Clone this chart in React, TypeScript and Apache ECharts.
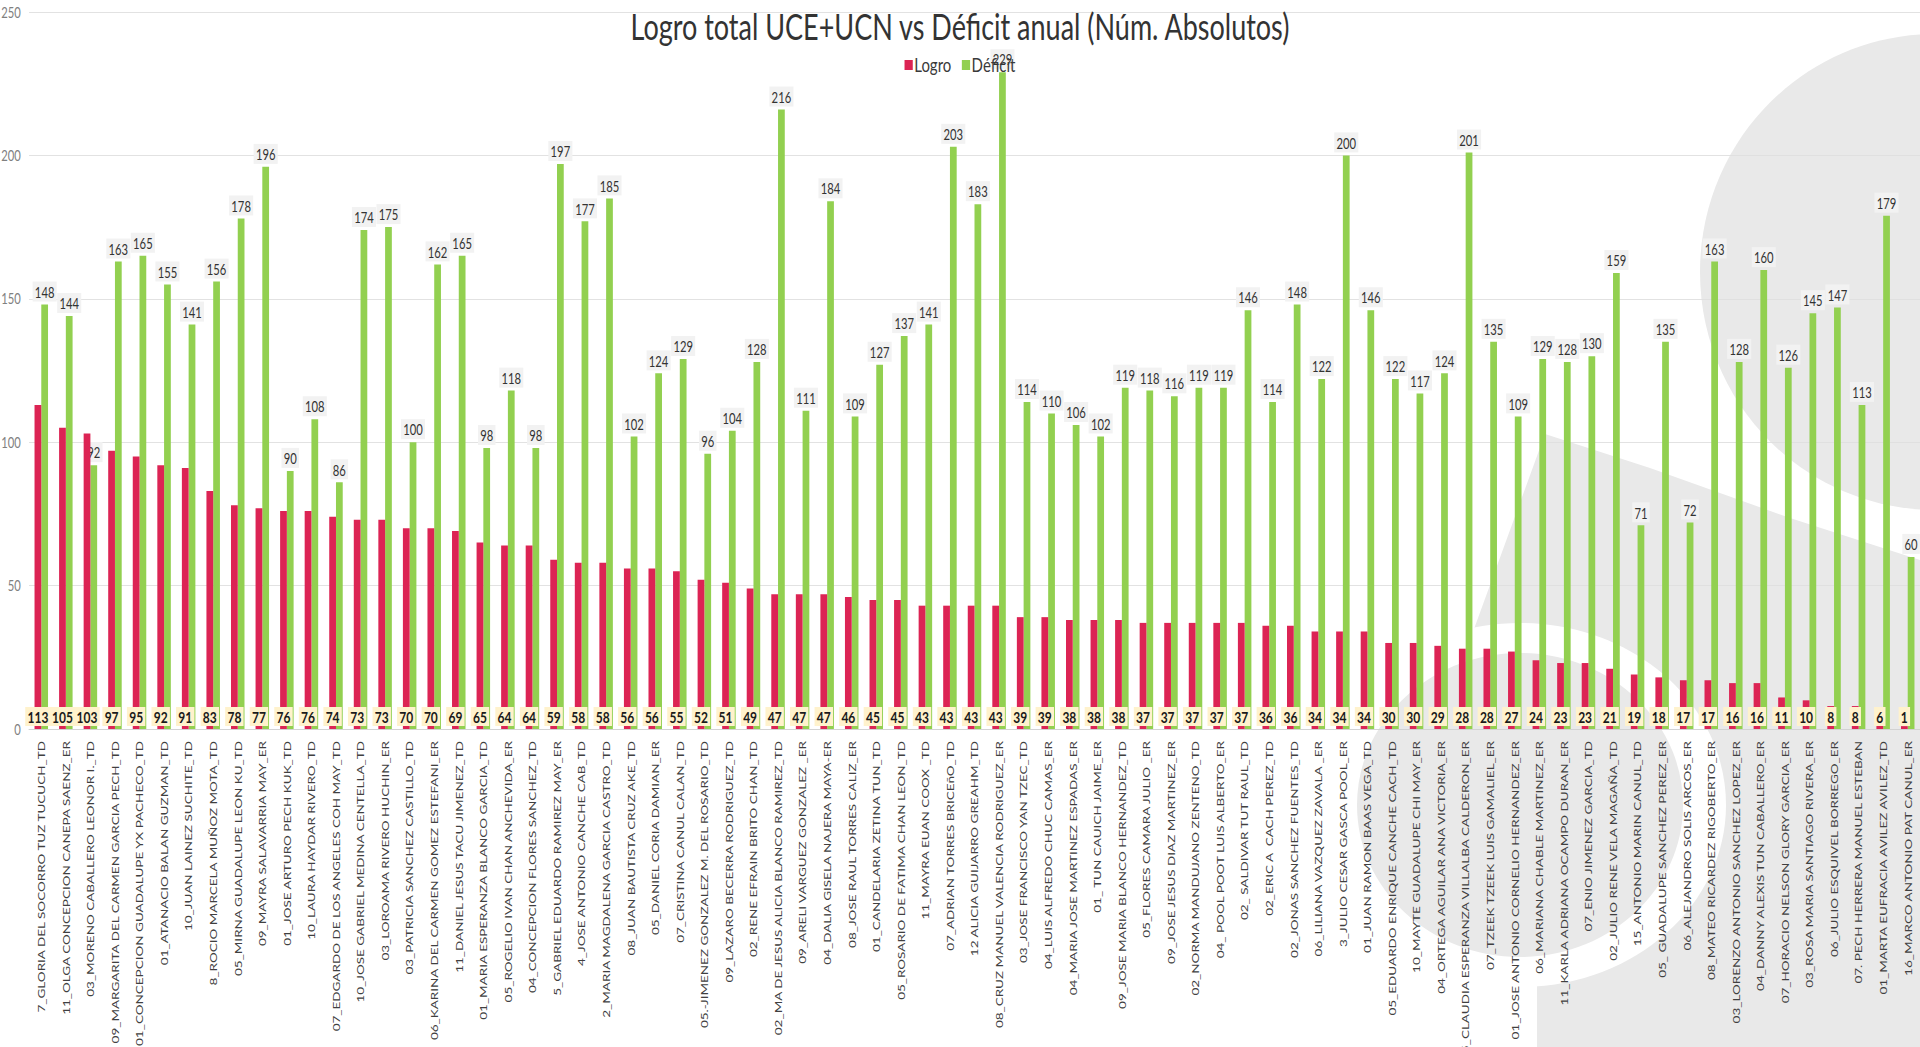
import React, { useEffect, useRef } from "react";
import * as echarts from "echarts";

const categories = [
  "7_GLORIA DEL SOCORRO TUZ TUCUCH_TD",
  "11_OLGA CONCEPCION CANEPA SAENZ_ER",
  "03_MORENO CABALLERO LEONOR I._TD",
  "09_MARGARITA DEL CARMEN GARCIA PECH_TD",
  "01_CONCEPCION GUADALUPE YX PACHECO_TD",
  "01_ATANACIO BALAN GUZMAN_TD",
  "10_JUAN LAINEZ SUCHITE_TD",
  "8_ROCIO MARCELA MUÑOZ MOTA_TD",
  "05_MIRNA GUADALUPE LEON KU_TD",
  "09_MAYRA SALAVARRIA MAY_ER",
  "01_JOSE ARTURO PECH KUK_TD",
  "10_LAURA HAYDAR RIVERO_TD",
  "07_EDGARDO DE LOS ANGELES COH MAY_TD",
  "10_JOSE GABRIEL MEDINA CENTELLA_TD",
  "03_LOROAMA RIVERO HUCHIN_ER",
  "03_PATRICIA SANCHEZ CASTILLO_TD",
  "06_KARINA DEL CARMEN GOMEZ ESTEFANI_ER",
  "11_DANIEL JESUS TACU JIMENEZ_TD",
  "01_MARIA ESPERANZA BLANCO GARCIA_TD",
  "05_ROGELIO IVAN CHAN ANCHEVIDA_ER",
  "04_CONCEPCION FLORES SANCHEZ_TD",
  "5_GABRIEL EDUARDO RAMIREZ MAY_ER",
  "4_JOSE ANTONIO CANCHE CAB_TD",
  "2_MARIA MAGDALENA GARCIA CASTRO_TD",
  "08_JUAN BAUTISTA CRUZ AKE_TD",
  "05_DANIEL CORIA DAMIAN_ER",
  "07_CRISTINA CANUL CALAN_TD",
  "05.-JIMENEZ GONZALEZ M. DEL ROSARIO_TD",
  "09_LAZARO BECERRA RODRIGUEZ_TD",
  "02_RENE EFRAIN BRITO CHAN_TD",
  "02_MA DE JESUS ALICIA BLANCO RAMIREZ_TD",
  "09_ARELI VARGUEZ GONZALEZ _ER",
  "04_DALIA GISELA NAJERA MAYA-ER",
  "08_JOSE RAUL TORRES CALIZ_ER",
  "01_CANDELARIA ZETINA TUN_TD",
  "05_ROSARIO DE FATIMA CHAN LEON_TD",
  "11_MAYRA EUAN COOX _TD",
  "07_ADRIAN TORRES BRICEñO_TD",
  "12 ALICIA GUIJARRO GREAHM_TD",
  "08_CRUZ MANUEL VALENCIA RODRIGUEZ_ER",
  "03_JOSE FRANCISCO YAN TZEC_TD",
  "04_LUIS ALFREDO CHUC CAMAS_ER",
  "04_MARIA JOSE MARTINEZ ESPADAS_ER",
  "01_ TUN CAUICH JAIME_ER",
  "09_JOSE MARIA BLANCO HERNANDEZ_TD",
  "05_FLORES CAMARA JULIO _ER",
  "09_JOSE JESUS DIAZ MARTINEZ_ER",
  "02_NORMA MANDUJANO ZENTENO_TD",
  "04_ POOL POOT LUIS ALBERTO_ER",
  "02_ SALDIVAR TUT RAUL_TD",
  "02_ERIC A  CACH PEREZ_TD",
  "02_JONAS SANCHEZ FUENTES_TD",
  "06_LILIANA VAZQUEZ ZAVALA _ER",
  "3_JULIO CESAR GASCA POOL_ER",
  "01_JUAN RAMON BAAS VEGA_TD",
  "05_EDUARDO ENRIQUE CANCHE CACH_TD",
  "10_MAYTE GUADALUPE CHI MAY_ER",
  "04_ORTEGA AGUILAR ANA VICTORIA_ER",
  "05_CLAUDIA ESPERANZA VILLALBA CALDERON_ER",
  "07_TZEEK TZEEK LUIS GAMALIEL_ER",
  "01_JOSE ANTONIO CORNELIO HERNANDEZ_ER",
  "06_MARIANA CHABLE MARTINEZ_ER",
  "11_KARLA ADRIANA OCAMPO DURAN_ER",
  "07_ENIO JIMENEZ GARCIA_TD",
  "02_JULIO RENE VELA MAGAÑA_TD",
  "15_ANTONIO MARIN CANUL_TD",
  "05_ GUADALUPE SANCHEZ PEREZ_ER",
  "06_ALEJANDRO SOLIS ARCOS_ER",
  "08_MATEO RICARDEZ RIGOBERTO_ER",
  "03_LORENZO ANTONIO SANCHEZ LOPEZ_ER",
  "04_DANNY ALEXIS TUN CABALLERO_ER",
  "07_HORACIO NELSON GLORY GARCIA_ER",
  "03_ROSA MARIA SANTIAGO RIVERA_ER",
  "06_JULIO ESQUIVEL BORREGO_ER",
  "07. PECH HERRERA MANUEL ESTEBAN",
  "01_MARTA EUFRACIA AVILEZ AVILEZ_TD",
  "16_MARCO ANTONIO PAT CANUL_ER",
];

const logro = [
  113, 105, 103, 97, 95, 92, 91, 83, 78, 77, 76, 76,
  74, 73, 73, 70, 70, 69, 65, 64, 64, 59, 58, 58, 56,
  56, 55, 52, 51, 49, 47, 47, 47, 46, 45, 45, 43, 43,
  43, 43, 39, 39, 38, 38, 38, 37, 37, 37, 37, 37, 36,
  36, 34, 34, 34, 30, 30, 29, 28, 28, 27, 24, 23, 23,
  21, 19, 18, 17, 17, 16, 16, 11, 10, 8, 8, 6, 1,
];

const deficit = [
  148, 144, 92, 163, 165, 155, 141, 156, 178, 196, 90, 108,
  86, 174, 175, 100, 162, 165, 98, 118, 98, 197, 177, 185, 102,
  124, 129, 96, 104, 128, 216, 111, 184, 109, 127, 137, 141, 203,
  183, 229, 114, 110, 106, 102, 119, 118, 116, 119, 119, 146, 114,
  148, 122, 200, 146, 122, 117, 124, 201, 135, 109, 129, 128, 130,
  159, 71, 135, 72, 163, 128, 160, 126, 145, 147, 113, 179, 60,
];

const yTicks = [0, 50, 100, 150, 200, 250];

const K = 0.75; // horizontal squeeze of the whole chart
const FULL_W = 1920;
const FULL_H = 1047;
const W = FULL_W / K;
const FONT = "Lato, 'Noto Sans', sans-serif";
const GRAY = "#e9e9e9";

const ell = (cx: number, cy: number, rx: number, ry: number, fill: string) => ({
  type: "ellipse",
  silent: true,
  z: -100,
  shape: { cx: cx / K, cy, rx: rx / K, ry },
  style: { fill },
});

const poly = (pts: number[][], fill: string) => ({
  type: "polygon",
  silent: true,
  z: -100,
  shape: { points: pts.map(([x, y]) => [x / K, y]) },
  style: { fill },
});

export default function App() {
  const ref = useRef<HTMLDivElement>(null);
  useEffect(() => {
    if (!ref.current) return;
    const chart = echarts.init(ref.current, undefined, { renderer: "svg" });
    chart.setOption({
      animation: false,
      backgroundColor: "#ffffff",
      graphic: {
        elements: [
          poly(
            [
              [1545, 434],
              [1650, 468],
              [1790, 518],
              [1920, 560],
              [2000, 600],
              [2000, 1100],
              [1537, 1100],
              [1537, 975],
              [1470, 640],
            ],
            GRAY
          ),
          ell(1520, 805, 206, 182, "#ffffff"),
          ell(1520, 805, 163, 152, GRAY),
          ell(1935, 272, 235, 238, GRAY),
        ],
      },
      title: {
        text: "Logro total UCE+UCN vs Déficit anual (Núm. Absolutos)",
        left: "center",
        top: 3,
        textStyle: {
          fontFamily: FONT,
          fontSize: 36,
          fontWeight: "normal",
          color: "#333333",
        },
      },
      legend: {
        data: ["Logro", "Déficit"],
        left: "center",
        top: 50,
        icon: "rect",
        itemWidth: 11,
        itemHeight: 10,
        itemGap: 14,
        textStyle: { fontFamily: FONT, fontSize: 20, color: "#3a3a3a", padding: [0, 0, 0, -3] },
      },
      grid: {
        left: 29 / K,
        right: 0,
        top: 12,
        bottom: FULL_H - 729,
        containLabel: false,
        outerBoundsMode: "none",
      },
      xAxis: {
        type: "category",
        data: categories,
        axisTick: { show: false },
        axisLine: { lineStyle: { color: "#d0d0d0", width: 1 } },
        axisLabel: {
          interval: 0,
          rotate: 90,
          margin: 12,
          fontFamily: FONT,
          fontSize: 13.5,
          color: "#404040",
        },
      },
      yAxis: {
        type: "value",
        min: yTicks[0],
        max: yTicks[yTicks.length - 1],
        interval: 50,
        axisLine: { show: false },
        axisTick: { show: false },
        axisLabel: { fontFamily: FONT, fontSize: 15, color: "#808080", margin: 11 },
        splitLine: { lineStyle: { color: "#dedede", width: 1 } },
      },
      series: [
        {
          name: "Logro",
          type: "bar",
          data: logro,
          barWidth: 9,
          barGap: "0%",
          itemStyle: { color: "#dc2454" },
          label: {
            show: true,
            position: "insideBottom",
            distance: 3,
            fontFamily: FONT,
            fontSize: 16,
            fontWeight: "bold",
            color: "#1a1a1a",
            backgroundColor: "#fff2cc",
            padding: [2, 3, 1, 3],
          },
          z: 3,
        },
        {
          name: "Déficit",
          type: "bar",
          data: deficit,
          barWidth: 9,
          itemStyle: { color: "#92d050" },
          label: {
            show: true,
            position: "top",
            distance: 3,
            fontFamily: FONT,
            fontSize: 15,
            color: "#333333",
            backgroundColor: "#f2f2f2",
            padding: [3, 3, 2, 3],
          },
          z: 2,
        },
      ],
    });
    return () => chart.dispose();
  }, []);

  return (
    <div
      style={{
        position: "fixed",
        left: 0,
        top: 0,
        width: FULL_W,
        height: FULL_H,
        overflow: "hidden",
        background: "#ffffff",
      }}
    >
      <div
        ref={ref}
        style={{
          width: W,
          height: FULL_H,
          transform: `scaleX(${K})`,
          transformOrigin: "0 0",
        }}
      />
    </div>
  );
}
